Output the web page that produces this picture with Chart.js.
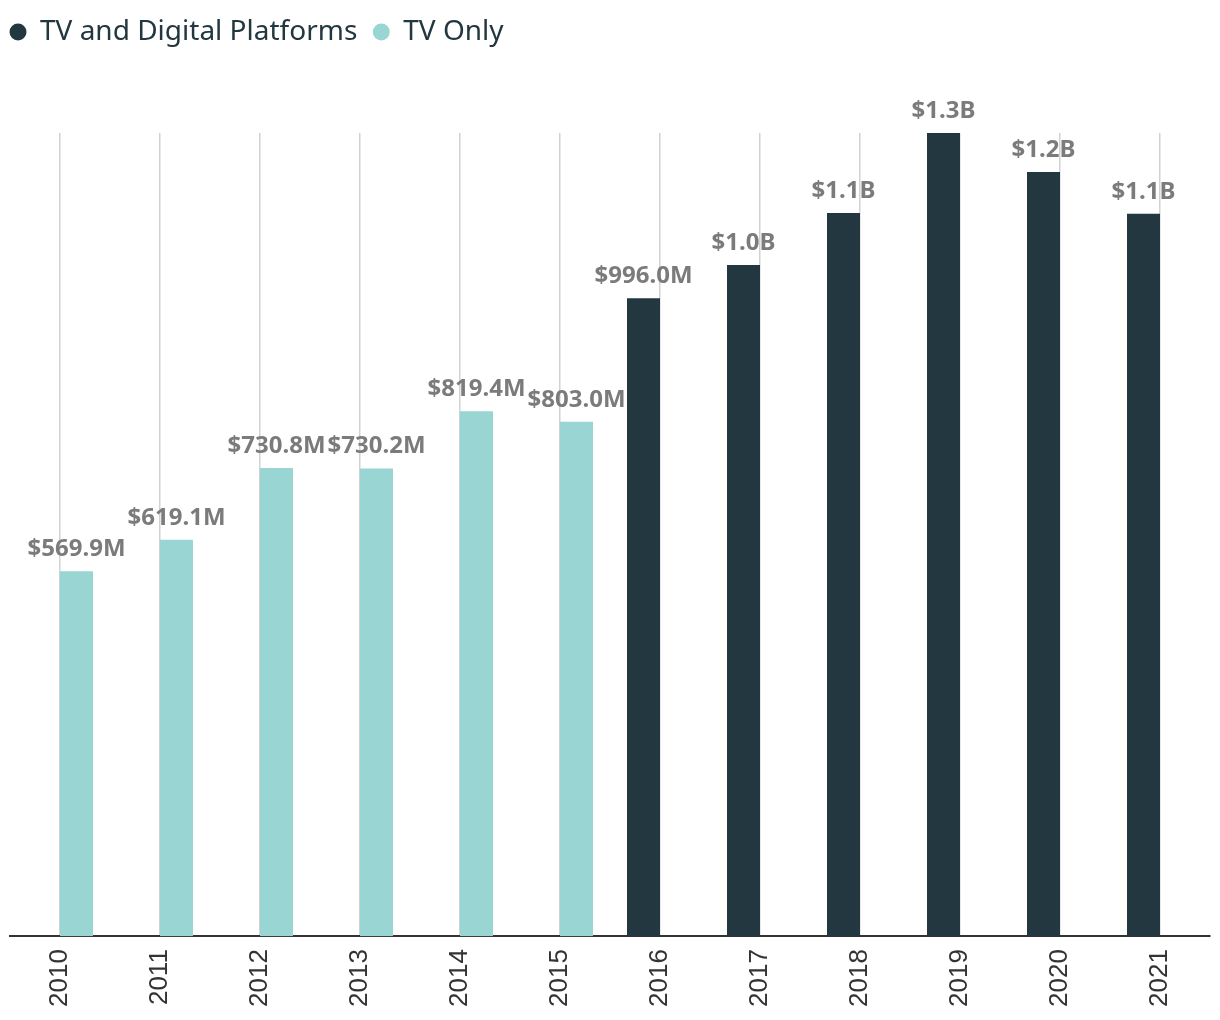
<!DOCTYPE html>
<html>
<head>
<meta charset="utf-8">
<script src="https://cdn.jsdelivr.net/npm/chart.js@4.4.1/dist/chart.umd.min.js"></script>
<style>
  html, body { margin: 0; padding: 0; background: #fff; }
  #wrap { width: 1220px; height: 1020px; }
</style>
</head>
<body>
<div id="wrap"><canvas id="revChart"></canvas></div>
<script>
// values in millions of dollars
const years = ['2010', '2011', '2012', '2013', '2014', '2015', '2016', '2017', '2018', '2019', '2020', '2021'];
const tvDigital = [null, null, null, null, null, null, 996.0, 1048, 1129, 1254, 1193, 1128];
const tvOnly = [569.9, 619.1, 730.8, 730.2, 819.4, 803.0, null, null, null, null, null, null];

const dark = '#233741';
const teal = '#98d5d3';

function fmtMoney(v) {
  if (v >= 1000) return '$' + (v / 1000).toFixed(1) + 'B';
  return '$' + v.toFixed(1) + 'M';
}

// labels above each bar
const barLabels = {
  id: 'barLabels',
  afterDatasetsDraw(chart) {
    const ctx = chart.ctx;
    ctx.save();
    ctx.font = "bold 24px 'Noto Sans', sans-serif";
    ctx.fillStyle = '#7b7b7b';
    ctx.textAlign = 'center';
    ctx.textBaseline = 'alphabetic';
    chart.data.datasets.forEach((ds, i) => {
      chart.getDatasetMeta(i).data.forEach((bar, j) => {
        const v = ds.data[j];
        if (v == null) return;
        ctx.fillText(fmtMoney(v), bar.x, bar.y - 15);
      });
    });
    ctx.restore();
  }
};

// give the legend room above the plot and pull it to the left edge
const legendSpace = {
  id: 'legendSpace',
  beforeInit(chart) {
    const fit = chart.legend.fit;
    chart.legend.fit = function () {
      fit.call(this);
      this.height = 131;
    };
  },
  afterLayout(chart) {
    chart.legend.left -= 16;
    chart.legend.right -= 16;
  }
};

const ctx = document.getElementById('revChart').getContext('2d');
const revChart = new Chart(ctx, {
  type: 'bar',
  data: {
    labels: years,
    datasets: [{
      label: 'TV and Digital Platforms',
      data: tvDigital,
      backgroundColor: dark,
      borderWidth: 0
    }, {
      label: 'TV Only',
      data: tvOnly,
      backgroundColor: teal,
      borderWidth: 0
    }]
  },
  options: {
    responsive: true,
    maintainAspectRatio: false,
    animation: false,
    categoryPercentage: 0.66,
    barPercentage: 1.0,
    layout: {
      padding: { top: 2, left: 10, right: 10, bottom: 0 }
    },
    plugins: {
      legend: {
        position: 'top',
        align: 'start',
        labels: {
          usePointStyle: true,
          pointStyle: 'circle',
          boxWidth: 16,
          boxHeight: 12,
          padding: 16,
          color: dark,
          font: { family: "'Noto Sans', sans-serif", size: 28 }
        }
      },
      tooltip: { enabled: false }
    },
    scales: {
      x: {
        grid: {
          offset: false,
          color: '#d2d2d2',
          lineWidth: 1.5,
          drawTicks: false
        },
        border: { display: true, color: '#333333', width: 2 },
        ticks: {
          minRotation: 90,
          maxRotation: 90,
          padding: 13,
          color: '#333333',
          font: { family: "'Liberation Sans', Arial, sans-serif", size: 26 }
        }
      },
      y: {
        display: false,
        min: 0,
        max: 1254
      }
    }
  },
  plugins: [barLabels, legendSpace]
});
</script>
</body>
</html>
